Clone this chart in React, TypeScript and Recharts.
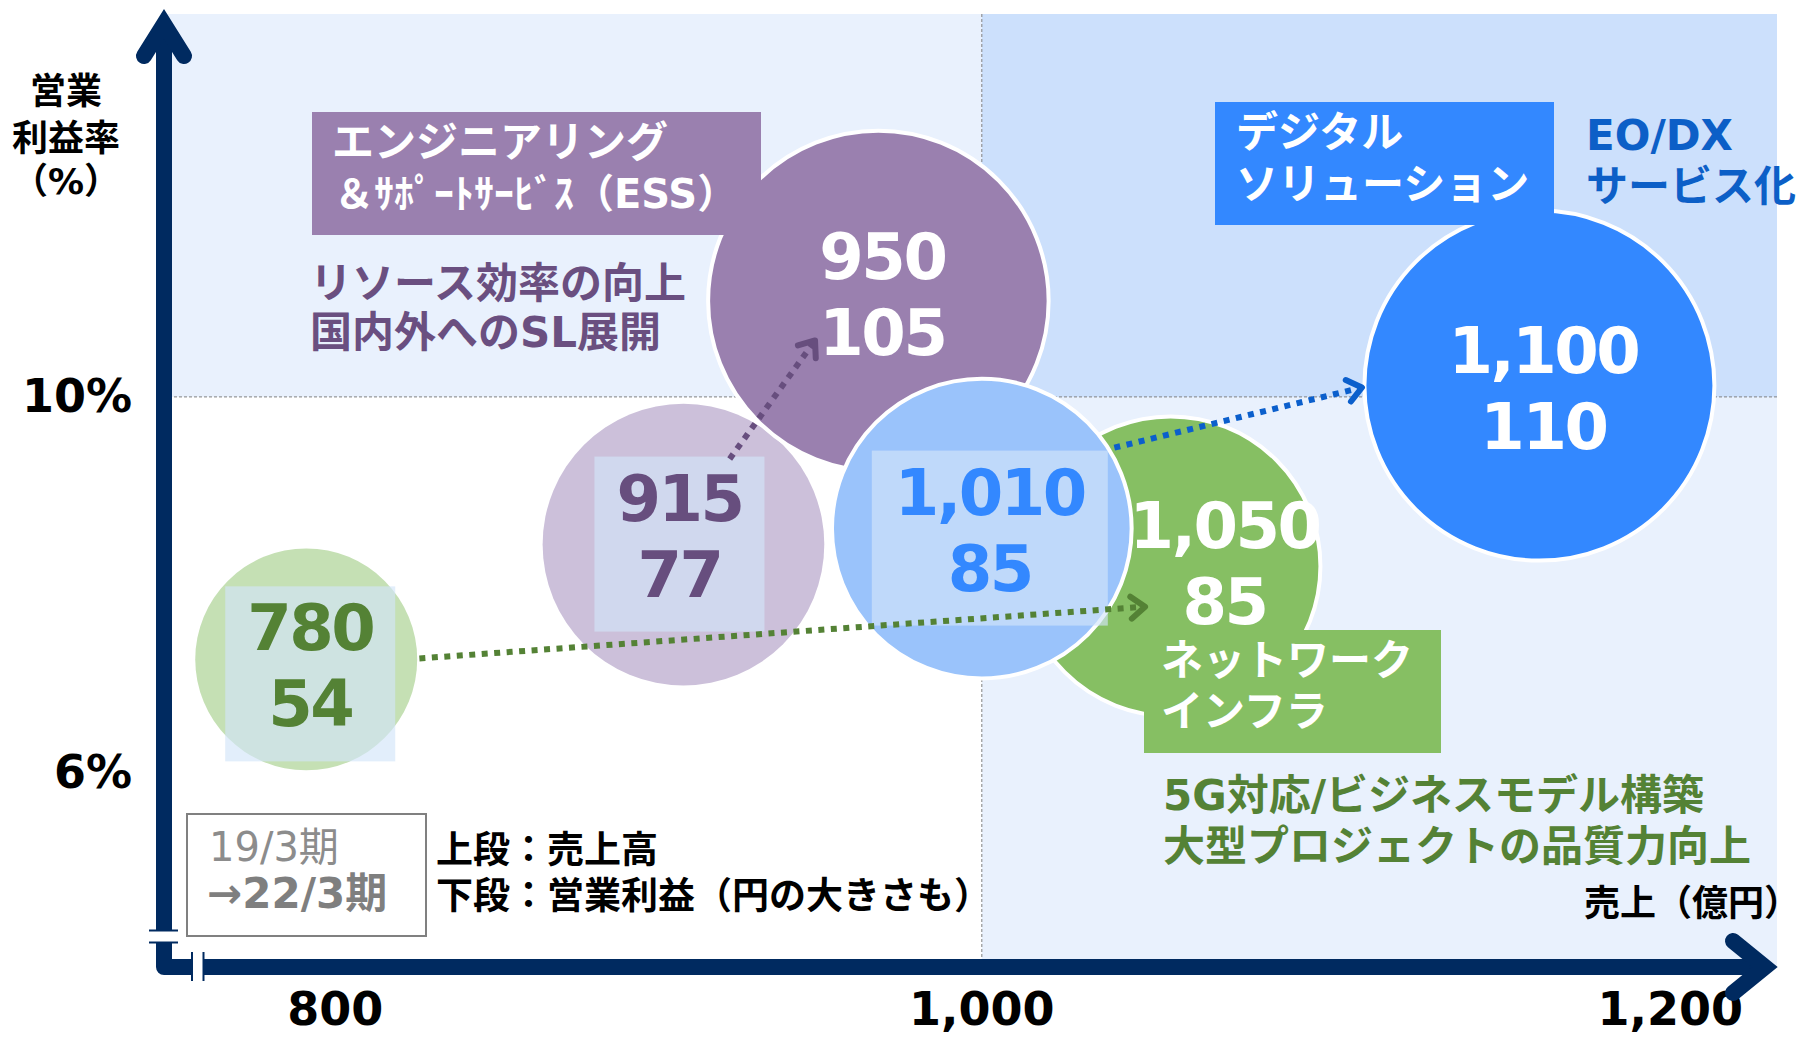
import React from 'react';
import { ScatterChart, Scatter, XAxis, YAxis, ZAxis, ReferenceArea, ReferenceLine } from 'recharts';

const FONT = "'DejaVu Sans', 'Noto Sans CJK JP', sans-serif";
const NAVY = '#002A60';

// bubbles in drawing order (19/3期 and 22/3期)
const bubbleKeys = ['ni19', 'ess19', 'ess22', 'ni22', 'ds19', 'ds22'];
const salesLabels = ['780', '915', '950', '1,050', '1,010', '1,100'];
const profitValues = [54, 77, 105, 85, 85, 110];
// where each bubble sits on the 売上 axis as drawn (the chart is schematic)
const salesPositions = [791, 907.7, 968, 1058.4, 1000, 1172.5];
const marginValues = [7.21, 8.43, 11.02, 8.2, 8.6, 10.12];

const xTicks = [800, 1000, 1200];
const yTicks = [6, 10];

// dotted arrows 19/3期 → 22/3期
const arrowKeys = ['ni', 'ess', 'ds'];
const arrowFromX = [826, 922, 1041];
const arrowFromY = [7.22, 9.34, 9.46];
const arrowToX = [1050.5, 948.4, 1117.6];
const arrowToY = [7.77, 10.6, 10.1];

const BUBBLE_STYLE: Record<string, any> = {
  ni19: { fill: '#C5E0B4', stroke: 'none', text: '#548235', box: 170, dx: 4, dy: 6 },
  ess19: { fill: '#CCC0DA', stroke: 'none', text: '#674E7E', box: 170, dx: -4, dy: -9 },
  ess22: { fill: '#9A80AF', stroke: '#fff', text: '#fff', dx: 4, dy: -7 },
  ni22: { fill: '#86BF63', stroke: '#fff', text: '#fff', dx: 54, dy: -3 },
  ds19: { fill: '#9AC3FB', stroke: '#fff', text: '#3388FF', box: 236, dx: 8, dy: 1 },
  ds22: { fill: '#3388FF', stroke: '#fff', text: '#fff', dx: 4, dy: 2 },
};
const ARROW_COLOR: Record<string, string> = { ni: '#548235', ess: '#674E7E', ds: '#0B5FCC' };
const X_TICK_SHIFT: Record<number, number> = { 1200: 42 };

const bubbles = bubbleKeys.map((key, i) => ({
  key,
  label: salesLabels[i],
  profit: profitValues[i],
  x: salesPositions[i],
  y: marginValues[i],
}));

const arrows = arrowKeys.map((key, i) => ({
  key,
  points: [
    { x: arrowFromX[i], y: arrowFromY[i] },
    { x: arrowToX[i], y: arrowToY[i] },
  ],
}));

function Bubble(props: any) {
  const { cx, cy, width, payload } = props;
  const s = BUBBLE_STYLE[payload.key];
  const r = width / 2;
  const tx = cx + s.dx;
  const ty = cy + s.dy;
  return (
    <g>
      <circle cx={cx} cy={cy} r={r} fill={s.fill} stroke={s.stroke} strokeWidth={4} />
      {s.box && (
        <rect x={tx - s.box / 2} y={ty - 79} width={s.box} height={175} fill="#D2E5F9" fillOpacity={0.65} />
      )}
      <text x={tx} y={ty - 38 + 23} textAnchor="middle" fontFamily={FONT} fontWeight={700} fontSize={64} letterSpacing={-2.5} fill={s.text}>
        {payload.label}
      </text>
      <text x={tx} y={ty + 38 + 23} textAnchor="middle" fontFamily={FONT} fontWeight={700} fontSize={64} letterSpacing={-2.5} fill={s.text}>
        {payload.profit}
      </text>
    </g>
  );
}

// dotted line with an open arrowhead, drawn from the scatter's own line points
function arrowLine(color: string) {
  return (props: any) => {
    const pts = props.points || [];
    if (pts.length < 2) return <g />;
    const { x: x1, y: y1 } = pts[0];
    const { x: x2, y: y2 } = pts[pts.length - 1];
    const len = Math.hypot(x2 - x1, y2 - y1) || 1;
    const ux = (x2 - x1) / len;
    const uy = (y2 - y1) / len;
    const back = 14;
    const side = 11;
    const p1 = `${x2 - ux * back - uy * side},${y2 - uy * back + ux * side}`;
    const p2 = `${x2 - ux * back + uy * side},${y2 - uy * back - ux * side}`;
    return (
      <g>
        <line x1={x1} y1={y1} x2={x2 - ux * 4} y2={y2 - uy * 4} stroke={color} strokeWidth={6} strokeDasharray="6 6.5" />
        <polyline points={`${p1} ${x2},${y2} ${p2}`} fill="none" stroke={color} strokeWidth={6} strokeLinecap="round" strokeLinejoin="round" />
      </g>
    );
  };
}

function XTick(props: any) {
  const { x, y, payload } = props;
  const v = payload.value as number;
  return (
    <text x={x + (X_TICK_SHIFT[v] || 0)} y={y + 58} textAnchor="middle" fontFamily={FONT} fontWeight={700} fontSize={46} fill="#000">
      {v.toLocaleString('en-US')}
    </text>
  );
}

function YTick(props: any) {
  const { x, y, payload } = props;
  return (
    <text x={x - 32} y={y + 15} textAnchor="end" fontFamily={FONT} fontWeight={700} fontSize={46} fill="#000">
      {payload.value}%
    </text>
  );
}

function T({ x, cy, size, color, weight = 700, anchor = 'start', children }: any) {
  return (
    <text x={x} y={cy + size * 0.36} fontSize={size} fill={color} fontWeight={weight} textAnchor={anchor} fontFamily={FONT}>
      {children}
    </text>
  );
}

export default function App() {
  return (
    <div style={{ position: 'absolute', left: 0, top: 0, width: 1802, height: 1037, background: '#fff' }}>
      <ScatterChart width={1802} height={1037} margin={{ top: 14, right: 25, bottom: 40, left: 104 }}>
        <XAxis type="number" dataKey="x" domain={[747, 1246]} ticks={xTicks} interval={0}
          axisLine={false} tickLine={false} tickSize={0} tickMargin={0} height={30} tick={<XTick />} />
        <YAxis type="number" dataKey="y" domain={[3.94, 14.07]} ticks={yTicks} interval={0}
          axisLine={false} tickLine={false} tickSize={0} tickMargin={0} width={60} tick={<YTick />} />
        <ZAxis type="number" dataKey="profit" domain={[54, 110]} range={[38700, 96200]} />
        <ReferenceArea x1={747} x2={1000} y1={10} y2={14.07} fill="#E9F1FD" fillOpacity={1} stroke="none" />
        <ReferenceArea x1={1000} x2={1246} y1={3.94} y2={10} fill="#E9F1FD" fillOpacity={1} stroke="none" />
        <ReferenceArea x1={1000} x2={1246} y1={10} y2={14.07} fill="#CCE0FC" fillOpacity={1} stroke="none" />
        <ReferenceLine y={10} stroke="#808080" strokeWidth={1} strokeDasharray="3 2" />
        <ReferenceLine x={1000} stroke="#808080" strokeWidth={1} strokeDasharray="3 2" />
        <Scatter data={bubbles} shape={<Bubble />} isAnimationActive={false} />
        {arrows.map((a) => (
          <Scatter key={a.key} data={a.points} line={arrowLine(ARROW_COLOR[a.key])} lineType="joint"
            shape={() => <g />} isAnimationActive={false} />
        ))}
      </ScatterChart>

      <svg width={1802} height={1037} style={{ position: 'absolute', left: 0, top: 0, pointerEvents: 'none' }}>
        {/* axes */}
        <path d="M164,24 V967 H1765" fill="none" stroke={NAVY} strokeWidth={16} strokeLinejoin="round" />
        <polyline points="144,56 164,24 184,56" fill="none" stroke={NAVY} strokeWidth={16} strokeLinecap="round" />
        <polyline points="1733,941 1765,967 1733,993" fill="none" stroke={NAVY} strokeWidth={16} strokeLinecap="round" />
        <rect x={150} y={931} width={28} height={11} fill="#fff" />
        <line x1={149} x2={178} y1={930.5} y2={930.5} stroke={NAVY} strokeWidth={2} />
        <line x1={149} x2={178} y1={942.5} y2={942.5} stroke={NAVY} strokeWidth={2} />
        <rect x={193} y={953} width={10} height={28} fill="#fff" />
        <line x1={192} x2={192} y1={952} y2={981} stroke={NAVY} strokeWidth={2} />
        <line x1={203.5} x2={203.5} y1={952} y2={981} stroke={NAVY} strokeWidth={2} />

        {/* axis titles */}
        <T x={66} cy={91} size={36} color="#000" anchor="middle">営業</T>
        <T x={66} cy={138} size={36} color="#000" anchor="middle">利益率</T>
        <T x={66} cy={181} size={36} color="#000" anchor="middle">（%）</T>
        <T x={1584} cy={903} size={36} color="#000">売上（億円）</T>

        {/* ESS */}
        <rect x={312} y={112} width={449} height={123} fill="#9A80AF" />
        <T x={332} cy={142} size={42} color="#fff">エンジニアリング</T>
        <T x={334} cy={194} size={40} color="#fff">＆ｻﾎﾟｰﾄｻｰﾋﾞｽ（ESS）</T>
        <T x={310} cy={283} size={42} color="#6A4F80">リソース効率の向上</T>
        <T x={310} cy={332} size={42} color="#6A4F80">国内外へのSL展開</T>

        {/* Digital solution */}
        <rect x={1215} y={102} width={339} height={123} fill="#3388FF" />
        <T x={1236} cy={132} size={42} color="#fff">デジタル</T>
        <T x={1236} cy={184} size={42} color="#fff">ソリューション</T>
        <T x={1586} cy={135} size={42} color="#0C5FC7">EO/DX</T>
        <T x={1586} cy={186} size={42} color="#0C5FC7">サービス化</T>

        {/* Network infra */}
        <rect x={1144} y={630} width={297} height={123} fill="#86BF63" />
        <T x={1161} cy={660} size={42} color="#fff">ネットワーク</T>
        <T x={1161} cy={711} size={42} color="#fff">インフラ</T>
        <T x={1163} cy={795} size={42} color="#548235">5G対応/ビジネスモデル構築</T>
        <T x={1163} cy={846} size={42} color="#548235">大型プロジェクトの品質力向上</T>

        {/* legend */}
        <rect x={187} y={814} width={239} height={122} fill="#fff" stroke="#808080" strokeWidth={2} />
        <T x={209} cy={847} size={40} color="#8C8C8C" weight={400}>19/3期</T>
        <T x={207} cy={893} size={42} color="#7F7F7F">→22/3期</T>
        <T x={436} cy={850} size={37} color="#000">上段：売上高</T>
        <T x={436} cy={896} size={37} color="#000">下段：営業利益（円の大きさも）</T>
      </svg>
    </div>
  );
}
